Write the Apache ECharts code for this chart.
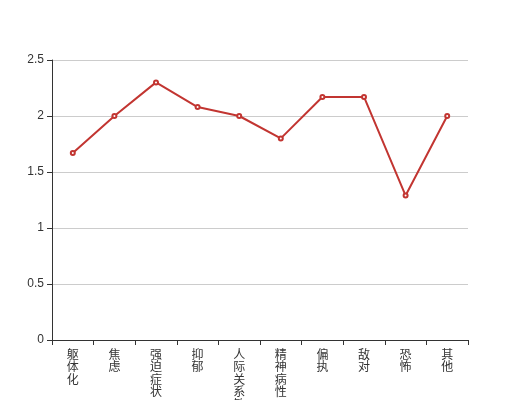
<!DOCTYPE html>
<html><head><meta charset="utf-8">
<script src="https://cdn.jsdelivr.net/npm/echarts@6/dist/echarts.min.js"></script>
<style>html,body{margin:0;padding:0;background:#fff}#c{width:520px;height:400px}</style>
</head><body><div id="c"></div>
<script>
var categories = ['躯体化','焦虑','强迫症状','抑郁','人际关系敏感','精神病性','偏执','敌对','恐怖','其他'];
var values = [1.67, 2.0, 2.3, 2.08, 2.0, 1.8, 2.17, 2.17, 1.29, 2.0];
var yTicks = [0, 0.5, 1, 1.5, 2, 2.5];
var chart = echarts.init(document.getElementById('c'), null, {renderer:'canvas'});
chart.setOption({
  animation:false,
  grid:{left:52, right:52, top:60, bottom:60, containLabel:false, outerBoundsMode:'none'},
  xAxis:{type:'category', data:categories, boundaryGap:true,
    axisLine:{show:true, lineStyle:{color:'#333'}},
    axisTick:{show:true, alignWithLabel:false, interval:0, lineStyle:{color:'#333'}},
    axisLabel:{interval:0, color:'#333', fontSize:12, lineHeight:12.5, margin:8,
      fontFamily:'"Noto Sans CJK SC", sans-serif',
      formatter:function(v){return v.split('').join('\n');}}
  },
  yAxis:{type:'value', min:yTicks[0], max:yTicks[yTicks.length-1], interval:0.5,
    axisLine:{show:true, lineStyle:{color:'#333'}},
    axisTick:{show:true, lineStyle:{color:'#333'}},
    axisLabel:{color:'#333', fontSize:12},
    splitLine:{lineStyle:{color:'#ccc'}}
  },
  series:[{type:'line', data:values, symbol:'emptyCircle', symbolSize:4,
    itemStyle:{color:'#c23531'}, lineStyle:{color:'#c23531', width:2}}]
});
</script></body></html>
